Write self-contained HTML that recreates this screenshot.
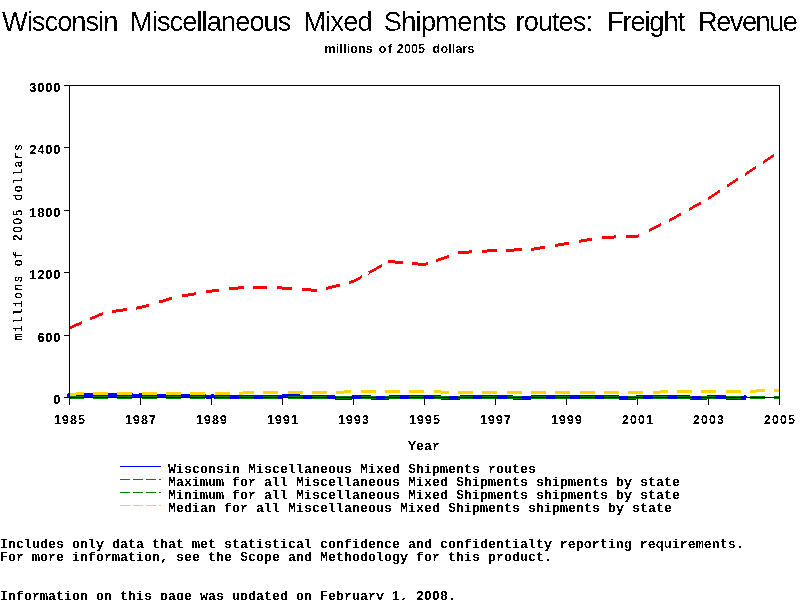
<!DOCTYPE html>
<html>
<head>
<meta charset="utf-8">
<title>Wisconsin Miscellaneous Mixed Shipments routes: Freight Revenue</title>
<style>
  html, body { margin: 0; padding: 0; background: #ffffff; }
  body { width: 800px; height: 600px; overflow: hidden; position: relative; }
  svg { position: absolute; left: 0; top: 0; display: block; }
  text { fill: #000; }
  .title { font-family: "Liberation Sans", sans-serif; font-size: 27.3px; font-weight: normal; }
  .sub { font-family: "Liberation Sans", sans-serif; font-size: 12.5px; font-weight: bold; letter-spacing: 0.15px; }
  .mono { font-family: "Liberation Mono", monospace; font-size: 13.333px; font-weight: bold; }
  .num { font-family: "Liberation Sans", sans-serif; font-size: 12.4px; font-weight: bold; }
  .ylabnum { font-family: "Liberation Sans", sans-serif; font-size: 12.2px; font-weight: normal; }
  .ylab { font-family: "Liberation Mono", monospace; font-size: 12.6px; font-weight: normal; }
</style>
</head>
<body>
<svg width="800" height="600" viewBox="0 0 800 600">
  <defs>
    <filter id="thr" x="0" y="0" width="800" height="600" filterUnits="userSpaceOnUse" color-interpolation-filters="sRGB">
      <feComponentTransfer><feFuncA type="discrete" tableValues="0 1"/></feComponentTransfer>
    </filter>
    <filter id="thrT" x="0" y="0" width="800" height="600" filterUnits="userSpaceOnUse" color-interpolation-filters="sRGB">
      <feColorMatrix type="matrix" values="0 0 0 0 0  0 0 0 0 0  0 0 0 0 0  -1 0 0 1 0"/>
      <feComponentTransfer><feFuncA type="discrete" tableValues="0 0 0 0 0 0 0 0 0 1 1 1 1 1 1 1 1 1 1 1"/></feComponentTransfer>
    </filter>
    <filter id="thrNum" x="0" y="0" width="800" height="600" filterUnits="userSpaceOnUse" color-interpolation-filters="sRGB">
      <feComponentTransfer><feFuncA type="discrete" tableValues="0 0 0 0 0 0 0 0 0 1 1 1 1 1 1 1 1 1 1 1"/></feComponentTransfer>
    </filter>
    <filter id="thrBold" x="0" y="0" width="800" height="600" filterUnits="userSpaceOnUse" color-interpolation-filters="sRGB">
      <feComponentTransfer><feFuncA type="discrete" tableValues="0 0 1 1 1"/></feComponentTransfer>
    </filter>
  </defs>
  <rect x="0" y="0" width="800" height="600" fill="#ffffff"/>
  <g filter="url(#thrT)"><rect x="0" y="0" width="800" height="42" fill="#ffffff"/><g class="title" transform="translate(0,31)" stroke="#ffffff" stroke-width="0.12">
    <text x="2" y="0" textLength="116.5" lengthAdjust="spacing">Wisconsin</text>
    <text x="130" y="0" textLength="161.5" lengthAdjust="spacing">Miscellaneous</text>
    <text x="303.3" y="0" textLength="69.5" lengthAdjust="spacing">Mixed</text>
    <text x="383.7" y="0" textLength="123" lengthAdjust="spacing">Shipments</text>
    <text x="515.6" y="0" textLength="77.4" lengthAdjust="spacing">routes:</text>
    <text x="607" y="0" textLength="78" lengthAdjust="spacing">Freight</text>
    <text x="698" y="0" textLength="100" lengthAdjust="spacing">Revenue</text>
  </g></g>
  <g class="sub" filter="url(#thr)">
    <text x="324.5" y="53">millions</text>
    <text x="378.7" y="53" textLength="13.8" lengthAdjust="spacing">of</text>
    <text x="396.8" y="53">2005</text>
    <text x="432.6" y="53">dollars</text>
  </g>
  <g fill="none" shape-rendering="crispEdges">
    <g fill="#0000ff" stroke="none"><rect x="67" y="394" width="1" height="3"/><rect x="68" y="393" width="65" height="4"/><rect x="133" y="394" width="6" height="4"/><rect x="139" y="393" width="3" height="4"/><rect x="142" y="394" width="64" height="4"/><rect x="206" y="395" width="5" height="4"/><rect x="211" y="394" width="3" height="4"/><rect x="214" y="395" width="68" height="4"/><rect x="282" y="394" width="18" height="4"/><rect x="300" y="395" width="35" height="4"/><rect x="335" y="396" width="17" height="4"/><rect x="352" y="395" width="19" height="4"/><rect x="371" y="396" width="18" height="4"/><rect x="389" y="395" width="52" height="4"/><rect x="441" y="396" width="19" height="4"/><rect x="460" y="395" width="53" height="4"/><rect x="513" y="396" width="18" height="4"/><rect x="531" y="395" width="88" height="4"/><rect x="619" y="396" width="17" height="4"/><rect x="636" y="395" width="54" height="4"/><rect x="690" y="396" width="17" height="4"/><rect x="707" y="395" width="19" height="4"/><rect x="726" y="396" width="18" height="4"/><path d="M744,395 L746,395 L747,397 L746,400 L744,400 Z"/></g>
    <path fill="#ff0000" stroke="none" d="M68.5,326.9 L69.5,326.5 L82.0,321.0 L82.0,324.0 L69.5,329.5 L68.5,329.9Z M89.7,317.7 L103.2,311.8 L103.2,314.8 L89.7,320.7Z M111.6,310.1 L126.8,307.9 L126.8,310.9 L111.6,313.1Z M135.9,306.6 L140.5,306.0 L149.4,303.4 L149.4,306.4 L140.5,309.0 L135.9,309.6Z M158.9,300.6 L172.4,296.6 L172.4,299.6 L158.9,303.6Z M181.5,294.6 L195.7,292.2 L195.7,295.2 L181.5,297.6Z M205.8,290.5 L211.5,289.5 L219.3,288.6 L219.3,291.6 L211.5,292.5 L205.8,293.5Z M229.4,287.5 L243.9,285.8 L243.9,288.8 L229.4,290.5Z M253.0,285.7 L266.5,286.0 L266.5,289.0 L253.0,288.7Z M277.0,286.3 L282.5,286.5 L292.2,287.2 L292.2,290.2 L282.5,289.5 L277.0,289.3Z M302.0,287.9 L316.8,288.9 L316.8,291.9 L302.0,290.9Z M326.3,286.9 L340.0,283.4 L340.0,286.4 L326.3,289.9Z M349.0,281.1 L353.5,280.0 L362.0,275.2 L362.0,278.2 L353.5,283.0 L349.0,284.1Z M368.5,271.5 L382.0,263.9 L382.0,266.9 L368.5,274.5Z M388.4,260.3 L389.0,260.0 L402.5,261.1 L402.5,264.1 L389.0,263.0 L388.4,263.3Z M412.4,262.0 L424.5,263.0 L427.6,262.0 L427.6,265.0 L424.5,266.0 L412.4,265.0Z M435.7,259.2 L448.5,254.9 L448.5,257.9 L435.7,262.2Z M457.6,251.8 L460.0,251.0 L472.0,250.3 L472.0,253.3 L460.0,254.0 L457.6,254.8Z M482.0,249.8 L495.5,249.0 L497.0,249.0 L497.0,252.0 L495.5,252.0 L482.0,252.8Z M506.0,248.7 L522.0,248.3 L522.0,251.3 L506.0,251.7Z M530.5,248.0 L531.0,248.0 L544.7,245.7 L544.7,248.7 L531.0,251.0 L530.5,251.0Z M554.7,244.0 L566.5,242.0 L568.6,241.6 L568.6,244.6 L566.5,245.0 L554.7,247.0Z M579.0,239.9 L592.0,237.7 L592.0,240.7 L579.0,242.9Z M602.4,236.0 L616.4,235.4 L616.4,238.4 L602.4,239.0Z M626.0,235.0 L637.5,234.5 L639.0,233.8 L639.0,236.8 L637.5,237.5 L626.0,238.0Z M648.9,228.9 L661.0,222.9 L661.0,225.9 L648.9,231.9Z M669.3,218.8 L673.0,217.0 L681.4,212.3 L681.4,215.3 L673.0,220.0 L669.3,221.8Z M688.8,208.1 L700.9,201.3 L700.9,204.3 L688.8,211.1Z M708.0,197.3 L708.5,197.0 L719.7,189.6 L719.7,192.6 L708.5,200.0 L708.0,200.3Z M726.9,184.8 L737.6,177.7 L737.6,180.7 L726.9,187.8Z M745.4,172.6 L756.0,165.6 L756.0,168.6 L745.4,175.6Z M762.6,161.2 L774.0,153.6 L774.0,156.6 L762.6,164.2Z"/>
    <g fill="#008000" stroke="none"><rect x="69" y="396" width="15" height="3"/><rect x="93" y="396" width="15" height="3"/><rect x="117" y="396" width="15" height="3"/><rect x="142" y="396" width="15" height="3"/><rect x="166" y="396" width="15" height="3"/><rect x="190" y="396" width="15" height="3"/><rect x="215" y="396" width="15" height="3"/><rect x="239" y="396" width="15" height="3"/><rect x="263" y="396" width="15" height="3"/><rect x="288" y="396" width="15" height="3"/><rect x="312" y="396" width="15" height="3"/><rect x="336" y="396" width="15" height="3"/><rect x="361" y="396" width="15" height="3"/><rect x="385" y="396" width="15" height="3"/><rect x="409" y="396" width="15" height="3"/><rect x="434" y="396" width="15" height="3"/><rect x="458" y="396" width="15" height="3"/><rect x="482" y="396" width="15" height="3"/><rect x="507" y="396" width="15" height="3"/><rect x="531" y="396" width="15" height="3"/><rect x="555" y="396" width="15" height="3"/><rect x="580" y="396" width="15" height="3"/><rect x="604" y="396" width="15" height="3"/><rect x="628" y="396" width="15" height="3"/><rect x="653" y="396" width="15" height="3"/><rect x="677" y="396" width="15" height="3"/><rect x="701" y="396" width="15" height="3"/><rect x="726" y="396" width="15" height="3"/><rect x="750" y="396" width="15" height="3"/><rect x="774" y="396" width="6" height="3"/></g>
    <g fill="#ffd700" stroke="none"><rect x="69" y="393" width="7" height="3"/><rect x="76" y="392" width="8" height="3"/><rect x="93" y="392" width="15" height="3"/><rect x="117" y="392" width="15" height="3"/><rect x="142" y="392" width="15" height="3"/><rect x="166" y="392" width="15" height="3"/><rect x="190" y="392" width="15" height="3"/><rect x="215" y="392" width="15" height="3"/><rect x="239" y="392" width="4" height="3"/><rect x="243" y="391" width="11" height="3"/><rect x="263" y="391" width="15" height="3"/><rect x="288" y="391" width="15" height="3"/><rect x="312" y="391" width="15" height="3"/><rect x="336" y="391" width="8" height="3"/><rect x="344" y="390" width="7" height="3"/><rect x="361" y="390" width="15" height="3"/><rect x="385" y="390" width="15" height="3"/><rect x="409" y="390" width="15" height="3"/><rect x="434" y="390" width="7" height="3"/><rect x="441" y="391" width="8" height="3"/><rect x="458" y="391" width="15" height="3"/><rect x="482" y="391" width="15" height="3"/><rect x="507" y="391" width="15" height="3"/><rect x="531" y="391" width="15" height="3"/><rect x="555" y="391" width="15" height="3"/><rect x="580" y="391" width="15" height="3"/><rect x="604" y="391" width="15" height="3"/><rect x="628" y="391" width="15" height="3"/><rect x="653" y="391" width="7" height="3"/><rect x="660" y="390" width="8" height="3"/><rect x="677" y="390" width="15" height="3"/><rect x="701" y="390" width="15" height="3"/><rect x="726" y="390" width="15" height="3"/><rect x="750" y="390" width="6" height="3"/><rect x="756" y="389" width="9" height="3"/><rect x="774" y="389" width="6" height="3"/></g>
  </g>
  <g fill="none" stroke="#000000" stroke-width="1" shape-rendering="crispEdges">
    <path d="M69.5,85.5 H779.5 V404.5"/>
    <path d="M69.5,85.5 V404.5"/>
    <path d="M64,397.5 H779.5"/>
    <path d="M64,85.5 H69.5 M64,147.5 H69.5 M64,210.5 H69.5 M64,272.5 H69.5 M64,335.5 H69.5"/>
    <path d="M140.5,397.5 V404.5 M211.5,397.5 V404.5 M282.5,397.5 V404.5 M353.5,397.5 V404.5 M424.5,397.5 V404.5 M495.5,397.5 V404.5 M566.5,397.5 V404.5 M637.5,397.5 V404.5 M708.5,397.5 V404.5"/>
  </g>
  <g class="num" filter="url(#thrNum)">
    <text x="29.6 37.6 45.6 53.6" y="92">3000</text>
    <text x="29.6 37.6 45.6 53.6" y="154">2400</text>
    <text x="29.6 37.6 45.6 53.6" y="217">1800</text>
    <text x="29.6 37.6 45.6 53.6" y="279">1200</text>
    <text x="37.6 45.6 53.6" y="342">600</text>
    <text x="53.6" y="404">0</text>
    <text x="54.1 62.1 70.1 78.1" y="424">1985</text>
    <text x="125.1 133.1 141.1 149.1" y="424">1987</text>
    <text x="196.1 204.1 212.1 220.1" y="424">1989</text>
    <text x="267.1 275.1 283.1 291.1" y="424">1991</text>
    <text x="338.1 346.1 354.1 362.1" y="424">1993</text>
    <text x="409.1 417.1 425.1 433.1" y="424">1995</text>
    <text x="480.1 488.1 496.1 504.1" y="424">1997</text>
    <text x="551.1 559.1 567.1 575.1" y="424">1999</text>
    <text x="622.1 630.1 638.1 646.1" y="424">2001</text>
    <text x="693.1 701.1 709.1 717.1" y="424">2003</text>
    <text x="764.1 772.1 780.1 788.1" y="424">2005</text>
  </g>
  <g filter="url(#thr)">
  <text class="mono" x="408" y="450">Year</text>
  </g>
  <g filter="url(#thr)">
  <g transform="translate(22.4,241.5) rotate(-90) scale(0.9,1)" stroke="#000" stroke-width="0.3"><text class="ylab" x="-109.60 -100.47 -91.33 -82.20 -73.07 -63.93 -54.80 -45.67 -36.53 -27.40 -18.27" y="0">millions of</text><text class="ylabnum" x="0.89 10.02 19.16 28.29" y="0">2005</text><text class="ylab" x="45.67 54.80 63.93 73.07 82.20 91.33 100.47" y="0">dollars</text></g>
  </g>
  <g fill="none" stroke-width="1" shape-rendering="crispEdges">
    <path d="M120,466.5 H161" stroke="#0000ff"/>
    <path d="M120,479.5 H161" stroke="#ff0000" stroke-dasharray="10 3.1"/>
    <path d="M120,492.5 H161" stroke="#008000" stroke-dasharray="10 3.1"/>
    <path d="M120,505.5 H161" stroke="#ffd700" stroke-dasharray="10 3.1"/>
  </g>
  <g class="mono" filter="url(#thr)">
    <text x="168" y="473">Wisconsin Miscellaneous Mixed Shipments routes</text>
    <text x="168" y="486">Maximum for all Miscellaneous Mixed Shipments shipments by state</text>
    <text x="168" y="499">Minimum for all Miscellaneous Mixed Shipments shipments by state</text>
    <text x="168" y="512">Median for all Miscellaneous Mixed Shipments shipments by state</text>
  </g>
  <g class="mono" filter="url(#thr)">
    <text x="0" y="548">Includes only data that met statistical confidence and confidentialty reporting requirements.</text>
    <text x="0" y="561">For more information, see the Scope and Methodology for this product.</text>
    <text x="0" y="600">Information on this page was updated on February</text>
    <text x="400" y="600">,</text>
    <text x="448" y="600">.</text>
  </g>
  <g class="num" filter="url(#thrNum)">
    <text x="392.6" y="600">1</text>
    <text x="416.6 424.6 432.6 440.6" y="600">2008</text>
  </g>
</svg>
</body>
</html>
